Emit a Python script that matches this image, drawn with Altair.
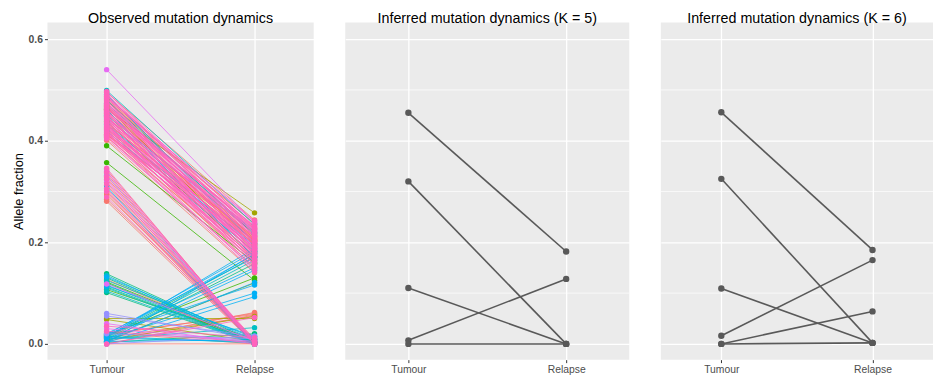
import altair as alt
import pandas as pd

# ---------------- data ----------------
stages = ["Tumour", "Relapse"]
group_names = ["g1", "g2", "g3", "g4", "g5", "g6", "g7", "g8", "g9", "g10"]
palette = ["#F8766D", "#D89000", "#A3A500", "#39B600", "#00BF7D",
           "#00BFC4", "#00B0F6", "#9590FF", "#E76BF3", "#FF62BC"]

# observed mutations: tumour VAF, relapse VAF, colour group index
obs_tumour = [
    # clonal cluster
    0.499, 0.497, 0.495, 0.492, 0.491, 0.488, 0.487, 0.485, 0.484, 0.481,
    0.480, 0.478, 0.477, 0.475, 0.473, 0.472, 0.470, 0.468, 0.467, 0.465,
    0.464, 0.462, 0.461, 0.459, 0.458, 0.456, 0.455, 0.453, 0.452, 0.450,
    0.449, 0.447, 0.446, 0.444, 0.443, 0.441, 0.440, 0.438, 0.437, 0.435,
    0.434, 0.432, 0.431, 0.429, 0.428, 0.426, 0.425, 0.423, 0.422, 0.420,
    0.419, 0.417, 0.416, 0.414, 0.413, 0.411, 0.409, 0.407, 0.404, 0.401,
    0.462,
    0.496, 0.489, 0.483, 0.479, 0.474, 0.469, 0.466, 0.463, 0.457, 0.454,
    0.451, 0.448, 0.445, 0.442, 0.439, 0.436, 0.433, 0.430, 0.427, 0.424,
    0.421, 0.418, 0.415, 0.412, 0.410, 0.486, 0.471, 0.460, 0.447, 0.433,
    # outliers
    0.540, 0.390, 0.357,
    # tumour-only subclone
    0.346, 0.343, 0.340, 0.338, 0.335, 0.332, 0.330, 0.327, 0.324, 0.321,
    0.318, 0.315, 0.312, 0.309, 0.306, 0.303, 0.300, 0.297, 0.293, 0.289,
    0.285, 0.281,
    # small tumour-only subclone
    0.138, 0.135, 0.132, 0.130, 0.127, 0.125, 0.122, 0.120, 0.118, 0.116,
    0.114, 0.112, 0.110, 0.107, 0.104, 0.101,
    # relapse-expanding subclone
    0.018, 0.015, 0.012, 0.020, 0.010, 0.016, 0.008, 0.014, 0.005, 0.019,
    0.011, 0.003, 0.013, 0.017, 0.006, 0.002,
    # small relapse subclone
    0.018, 0.000, 0.012, 0.005, 0.000, 0.020, 0.008, 0.050,
    # background
    0.060, 0.055, 0.048, 0.040, 0.035, 0.030, 0.025, 0.020, 0.015, 0.010,
    0.005, 0.000, 0.000, 0.003, 0.022, 0.012,
]
obs_relapse = [
    0.235, 0.212, 0.244, 0.221, 0.198, 0.230, 0.205, 0.240, 0.188, 0.226,
    0.215, 0.200, 0.237, 0.192, 0.220, 0.176, 0.209, 0.228, 0.183, 0.214,
    0.196, 0.231, 0.170, 0.203, 0.222, 0.185, 0.210, 0.165, 0.199, 0.218,
    0.178, 0.207, 0.190, 0.224, 0.160, 0.195, 0.212, 0.172, 0.186, 0.205,
    0.155, 0.193, 0.180, 0.201, 0.168, 0.150, 0.188, 0.175, 0.197, 0.162,
    0.182, 0.146, 0.170, 0.191, 0.158, 0.178, 0.142, 0.165, 0.152, 0.140,
    0.258,
    0.228, 0.217, 0.236, 0.203, 0.225, 0.194, 0.213, 0.233, 0.186, 0.207,
    0.219, 0.181, 0.202, 0.226, 0.173, 0.196, 0.211, 0.163, 0.190, 0.204,
    0.157, 0.184, 0.171, 0.198, 0.148, 0.242, 0.218, 0.201, 0.179, 0.167,
    0.238, 0.160, 0.125,
    0.000, 0.003, 0.000, 0.005, 0.001, 0.000, 0.008, 0.002, 0.000, 0.004,
    0.000, 0.006, 0.001, 0.000, 0.003, 0.000, 0.002, 0.000, 0.010, 0.000,
    0.004, 0.000,
    0.004, 0.000, 0.008, 0.002, 0.000, 0.012, 0.003, 0.000, 0.006, 0.000,
    0.015, 0.002, 0.000, 0.009, 0.001, 0.000,
    0.182, 0.176, 0.165, 0.170, 0.158, 0.150, 0.145, 0.188, 0.121, 0.116,
    0.100, 0.093, 0.172, 0.130, 0.120, 0.178,
    0.060, 0.057, 0.055, 0.062, 0.052, 0.058, 0.054, 0.050,
    0.010, 0.015, 0.005, 0.000, 0.012, 0.005, 0.003, 0.010, 0.002, 0.032,
    0.008, 0.000, 0.015, 0.020, 0.000, 0.004,
]
obs_colour = [
    5, 9, 0, 9, 6, 9, 0, 8, 9, 0, 4, 9, 0, 9, 5, 9, 0, 9, 2, 9,
    0, 9, 6, 0, 9, 8, 9, 0, 9, 5, 9, 0, 9, 7, 9, 0, 9, 3, 9, 0,
    9, 6, 0, 9, 9, 0, 8, 9, 0, 9, 5, 9, 0, 9, 0, 9, 9, 0, 9, 0,
    2,
    9, 9, 0, 9, 9, 0, 9, 9, 9, 0, 9, 9, 0, 9, 9, 9, 0, 9, 9, 0,
    9, 9, 9, 0, 9, 9, 9, 0, 9, 9,
    8, 3, 3,
    9, 0, 8, 9, 0, 7, 9, 0, 9, 8, 0, 9, 0, 6, 9, 0, 9, 0, 0, 9,
    0, 0,
    4, 5, 6, 4, 0, 5, 3, 4, 8, 5, 6, 4, 5, 3, 5, 4,
    6, 6, 5, 6, 4, 6, 6, 6, 6, 6, 6, 6, 4, 3, 2, 6,
    0, 0, 0, 0, 9, 0, 2, 2,
    7, 7, 2, 8, 9, 8, 9, 7, 5, 5, 6, 0, 7, 4, 0, 6,
]

# inferred cluster dynamics
k5_tumour = [0.455, 0.320, 0.110, 0.007, 0.000]
k5_relapse = [0.182, 0.000, 0.000, 0.128, 0.000]
k6_tumour = [0.456, 0.325, 0.109, 0.016, 0.000, 0.000]
k6_relapse = [0.185, 0.002, 0.002, 0.165, 0.064, 0.002]

y_major = [0.0, 0.2, 0.4, 0.6]
y_minor = [0.1, 0.3, 0.5]

# ---------------- tables ----------------
rows = []
order = sorted(range(len(obs_tumour)), key=lambda i: obs_colour[i])
for rank, i in enumerate(order):
    rows.append({"id": rank, "stage": "Tumour", "vaf": obs_tumour[i],
                 "grp": group_names[obs_colour[i]], "o": 0})
    rows.append({"id": rank, "stage": "Relapse", "vaf": obs_relapse[i],
                 "grp": group_names[obs_colour[i]], "o": 1})
obs_df = pd.DataFrame(rows)


def dyn_df(tum, rel):
    r = []
    for i, (a, b) in enumerate(zip(tum, rel)):
        r.append({"id": i, "stage": "Tumour", "vaf": a, "o": 0})
        r.append({"id": i, "stage": "Relapse", "vaf": b, "o": 1})
    return pd.DataFrame(r)


minor_df = pd.DataFrame({"v": y_minor})

# ---------------- chart ----------------
FONT = "Liberation Sans"
yscale = alt.Scale(domain=[-0.031, 0.633], nice=False, zero=False)
xscale = alt.Scale(type="point", domain=stages, padding=0.4)
xaxis = alt.Axis(title=None, grid=True, domain=False, labelAngle=0)


def yaxis(show):
    if show:
        return alt.Axis(title="Allele fraction", values=y_major, format=".1f",
                        grid=True, domain=False, titlePadding=3,
                        labelFontWeight="bold")
    return alt.Axis(title=None, values=y_major, labels=False, ticks=False,
                    grid=True, domain=False)


def panel(data, title, width, show_y, coloured):
    ya = yaxis(show_y)
    minor = alt.Chart(minor_df).mark_rule(color="white", strokeWidth=0.7).encode(
        y=alt.Y("v:Q", scale=yscale, axis=ya)
    )
    base = alt.Chart(data)
    enc = dict(
        x=alt.X("stage:N", scale=xscale, axis=xaxis),
        y=alt.Y("vaf:Q", scale=yscale, axis=ya),
        detail="id:N",
        order="o:Q",
    )
    if coloured:
        col = alt.Color("grp:N", scale=alt.Scale(domain=group_names, range=palette),
                        legend=None)
        lines = base.mark_line(strokeWidth=0.8).encode(color=col, **enc)
        pts = base.mark_circle(size=30, opacity=1).encode(
            x=enc["x"], y=enc["y"], color=col)
    else:
        lines = base.mark_line(strokeWidth=1.6, color="#595959").encode(**enc)
        pts = base.mark_circle(size=42, opacity=1, color="#595959").encode(
            x=enc["x"], y=enc["y"])
    return alt.layer(minor, lines, pts).properties(
        width=width, height=342, title=alt.TitleParams(title, anchor="middle", frame="group")
    )


p1 = panel(obs_df, "Observed mutation dynamics", 270, True, True)
p2 = panel(dyn_df(k5_tumour, k5_relapse), "Inferred mutation dynamics (K = 5)", 288, False, False)
p3 = panel(dyn_df(k6_tumour, k6_relapse), "Inferred mutation dynamics (K = 6)", 276, False, False)

chart = (
    alt.hconcat(p1, p2, p3, spacing=30)
    .properties(padding={"left": 4, "top": 0, "right": 0, "bottom": 0})
    .configure_view(fill="#EBEBEB", stroke=None)
    .configure_axis(
        labelFont=FONT, labelFontSize=10.5, labelColor="#4D4D4D",
        tickColor="#333333", tickSize=3, labelPadding=2,
        gridColor="white", gridWidth=1.3,
        titleFont=FONT, titleFontSize=13, titleColor="black", titleFontWeight="normal",
    )
    .configure_title(font=FONT, fontSize=14.5, fontWeight="normal", color="black", offset=-4)
)

chart.save("out.html", embed_options={"renderer": "svg", "actions": False})
